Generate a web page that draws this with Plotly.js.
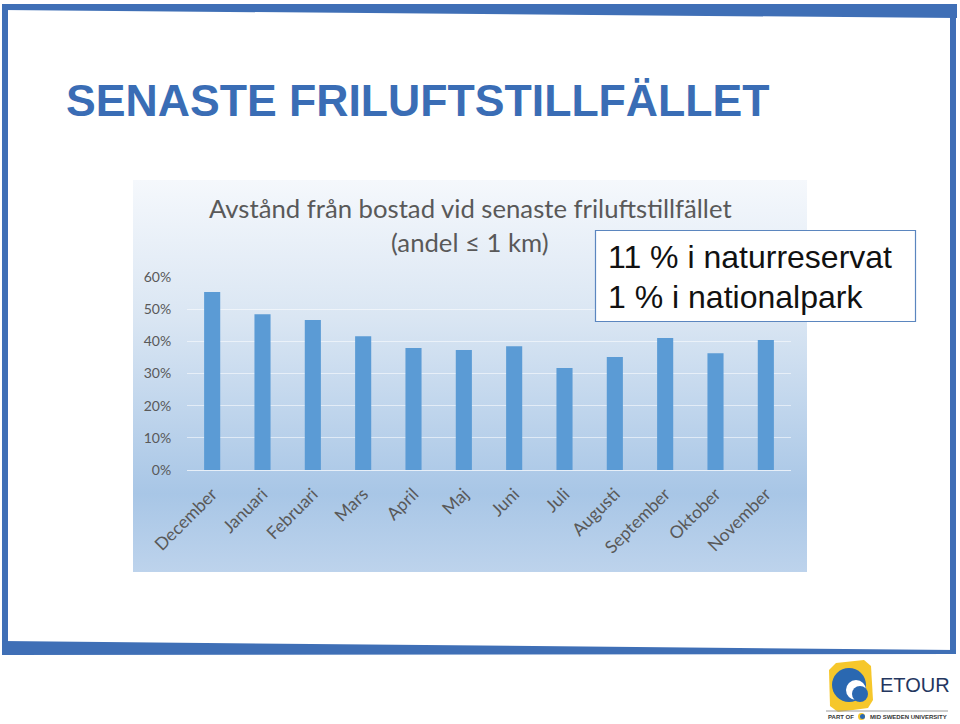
<!DOCTYPE html>
<html><head><meta charset="utf-8">
<script src="https://cdn.plot.ly/plotly-3.0.1.min.js"></script>
<style>html,body{margin:0;padding:0;background:#fff;overflow:hidden;}</style>
</head><body><div id="chart" style="width:960px;height:724px;"></div>
<script>
// ---- data ----
const months = ['December','Januari','Februari','Mars','April','Maj','Juni','Juli','Augusti','September','Oktober','November'];
const shares = [0.553,0.484,0.466,0.416,0.379,0.373,0.385,0.317,0.351,0.410,0.363,0.404];
const yTickValues = [0,0.1,0.2,0.3,0.4,0.5,0.6];
const yTickLabels = ['0%','10%','20%','30%','40%','50%','60%'];
const slideTitle = 'SENASTE FRILUFTSTILLFÄLLET';
const chartTitleLines = ['Avstånd från bostad vid senaste friluftstillfället','(andel ≤ 1 km)'];
const noteLines = ['11 % i naturreservat','1 % i nationalpark'];
const logoName = 'ETOUR';
const logoTagLeft = 'PART OF';
const logoTagRight = 'MID SWEDEN UNIVERSITY';

// ---- layout helpers (pixel -> paper) ----
const W = 960, H = 724, L = 187, R = 169, T = 277, B = 254;
const PW = W - L - R, PH = H - T - B;
const px = x => (x - L) / PW;
const py = y => (H - B - y) / PH;
const poly = pts => 'M' + pts.map(p => px(p[0]).toFixed(5) + ',' + py(p[1]).toFixed(5)).join(' L') + ' Z';

const frameColor = '#3F6FB6';
const shapes = [];
[
  [[2,4],[957,4],[957,18],[2,10]],
  [[2,4],[8,4],[8,655],[2,655]],
  [[950,4],[956,4],[956,654],[950,654]],
  [[2,641],[956,650],[956,654],[2,655]]
].forEach(p => shapes.push({type:'path', xref:'paper', yref:'paper', path: poly(p), fillcolor: frameColor, line:{width:0}, layer:'above'}));

// note box
shapes.push({type:'rect', xref:'paper', yref:'paper', x0:px(595.5), x1:px(915.5), y0:py(230.5), y1:py(321.5),
  fillcolor:'#FFFFFF', line:{color:'#5B86BF', width:1.2}, layer:'above'});

// logo icon
shapes.push({type:'path', xref:'paper', yref:'paper', layer:'above', line:{width:0}, fillcolor:'#F6C72B',
  path: poly([[836,663],[864,660],[871,666],[873,700],[868,708],[838,712],[830,706],[829,670]])});
shapes.push({type:'circle', xref:'paper', yref:'paper', layer:'above', line:{width:0}, fillcolor:'#2A68B1',
  x0:px(832), x1:px(866), y0:py(702), y1:py(668)});
shapes.push({type:'circle', xref:'paper', yref:'paper', layer:'above', line:{width:0}, fillcolor:'#FFFFFF',
  x0:px(846), x1:px(866), y0:py(700), y1:py(680)});
shapes.push({type:'circle', xref:'paper', yref:'paper', layer:'above', line:{width:0}, fillcolor:'#2A68B1',
  x0:px(852), x1:px(868), y0:py(702), y1:py(686)});
shapes.push({type:'line', xref:'paper', yref:'paper', layer:'above', line:{color:'#9A9A9A', width:1},
  x0:px(826), x1:px(948), y0:py(711), y1:py(711)});
shapes.push({type:'circle', xref:'paper', yref:'paper', layer:'above', line:{width:0}, fillcolor:'#F6C72B',
  x0:px(858), x1:px(865), y0:py(720), y1:py(713)});
shapes.push({type:'circle', xref:'paper', yref:'paper', layer:'above', line:{width:0}, fillcolor:'#2A68B1',
  x0:px(860), x1:px(865), y0:py(719), y1:py(714)});

// chart area gradient background
const gradSvg = '<svg xmlns="http://www.w3.org/2000/svg" width="100" height="100" preserveAspectRatio="none">' +
  '<defs><linearGradient id="g" x1="0" y1="0" x2="0" y2="1">' +
  '<stop offset="0" stop-color="#F5F8FC"/><stop offset="0.35" stop-color="#DAE6F3"/>' +
  '<stop offset="0.8" stop-color="#A8C6E6"/><stop offset="1" stop-color="#BDD3EC"/></linearGradient></defs>' +
  '<rect width="100" height="100" fill="url(#g)"/></svg>';
const images = [{source:'data:image/svg+xml;charset=utf-8,' + encodeURIComponent(gradSvg),
  xref:'paper', yref:'paper', x:px(133), y:py(180), sizex:px(807)-px(133), sizey:py(180)-py(572),
  xanchor:'left', yanchor:'top', sizing:'stretch', layer:'below'}];

const grey = '#595959';
const annotations = [
  {text: slideTitle, xref:'paper', yref:'paper', x:px(64), y:py(100), xanchor:'left', yanchor:'middle', showarrow:false,
    font:{family:'Liberation Sans, Arial, sans-serif', size:44.6, color:'#3A6DB5', weight:700}},
  {text: chartTitleLines[0], xref:'paper', yref:'paper', x:px(470), y:py(208), xanchor:'center', yanchor:'middle', showarrow:false,
    font:{family:'Lato, sans-serif', size:25.7, color:grey}},
  {text: chartTitleLines[1], xref:'paper', yref:'paper', x:px(470), y:py(242), xanchor:'center', yanchor:'middle', showarrow:false,
    font:{family:'Lato, sans-serif', size:25.7, color:grey}},
  {text: noteLines[0], xref:'paper', yref:'paper', x:px(606), y:py(257), xanchor:'left', yanchor:'middle', showarrow:false,
    font:{family:'Liberation Sans, Arial, sans-serif', size:32, color:'#111111'}},
  {text: noteLines[1], xref:'paper', yref:'paper', x:px(606), y:py(296.5), xanchor:'left', yanchor:'middle', showarrow:false,
    font:{family:'Liberation Sans, Arial, sans-serif', size:32, color:'#111111'}},
  {text: logoName, xref:'paper', yref:'paper', x:px(878), y:py(685), xanchor:'left', yanchor:'middle', showarrow:false,
    font:{family:'Liberation Sans, Arial, sans-serif', size:20, color:'#24365F'}},
  {text: logoTagLeft, xref:'paper', yref:'paper', x:px(826), y:py(717), xanchor:'left', yanchor:'middle', showarrow:false,
    font:{family:'Liberation Sans, Arial, sans-serif', size:6, color:'#333333', weight:700}},
  {text: logoTagRight, xref:'paper', yref:'paper', x:px(868), y:py(717), xanchor:'left', yanchor:'middle', showarrow:false,
    font:{family:'Liberation Sans, Arial, sans-serif', size:6, color:'#333333', weight:700}}
];

const trace = {type:'bar', x: months, y: shares, marker:{color:'#5B9BD5', line:{width:0}}, hoverinfo:'skip'};

const layout = {
  width: W, height: H,
  margin: {l:L, r:R, t:T, b:B, pad:0},
  paper_bgcolor:'#FFFFFF', plot_bgcolor:'rgba(0,0,0,0)',
  showlegend:false, bargap:0.68,
  xaxis: {type:'category', tickangle:-45, tickfont:{family:'Lato, sans-serif', size:17.5, color:grey},
    showgrid:false, showline:false, ticks:'outside', ticklen:6, tickcolor:'rgba(0,0,0,0)', zeroline:false, fixedrange:true},
  yaxis: {range:[0,0.6], tickvals:yTickValues, ticktext:yTickLabels, tickfont:{family:'Lato, sans-serif', size:14, color:grey},
    showgrid:true, gridcolor:'rgba(255,255,255,0.55)', gridwidth:1, zeroline:true, zerolinecolor:'rgba(255,255,255,0.7)', zerolinewidth:1,
    showline:false, ticks:'outside', ticklen:12, tickcolor:'rgba(0,0,0,0)', fixedrange:true},
  shapes: shapes, images: images, annotations: annotations
};
Plotly.newPlot('chart', [trace], layout, {displayModeBar:false, staticPlot:true});
</script></body></html>
